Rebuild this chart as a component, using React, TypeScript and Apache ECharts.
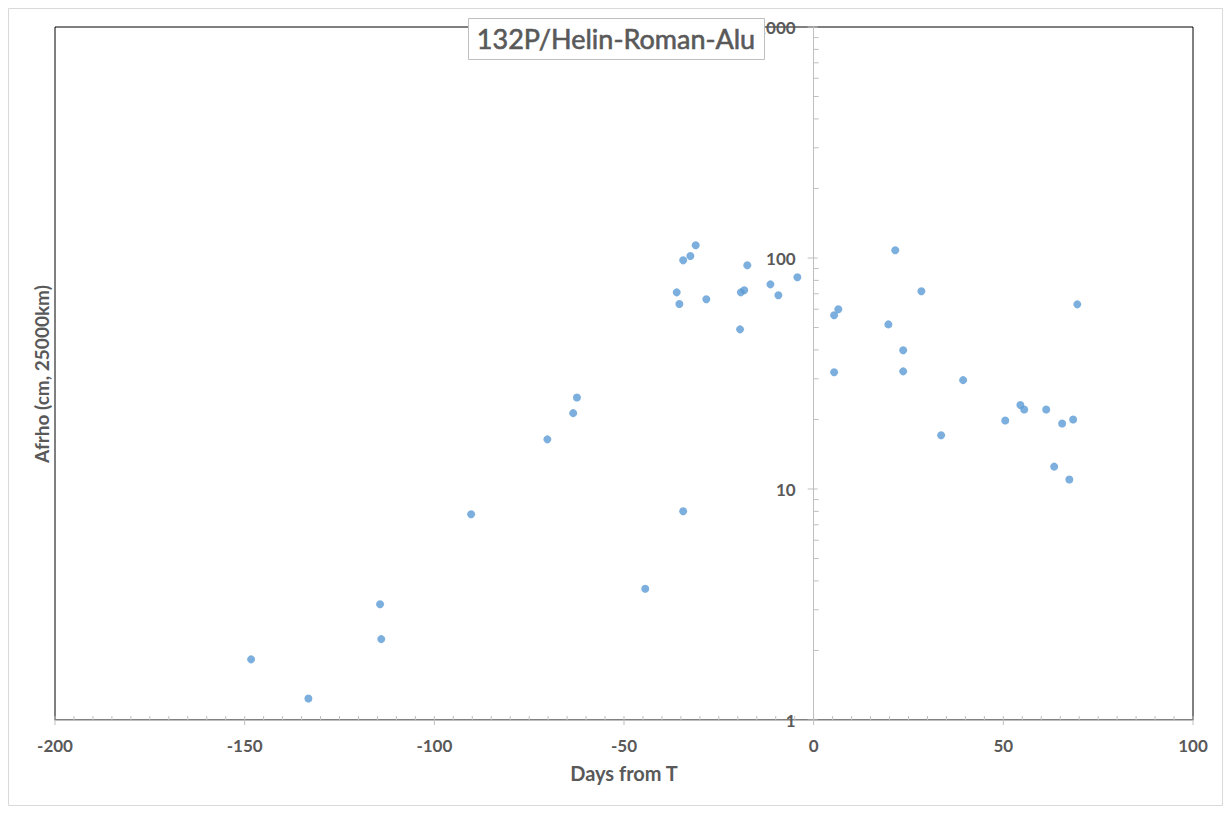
import React, { useEffect, useRef } from "react";
import * as echarts from "echarts";

const chartTitle = "132P/Helin-Roman-Alu";
const xAxisName = "Days from T";
const yAxisName = "Afrho (cm, 25000km)";

const days = [
  -148.3, -133.2, -114.3, -114.0, -90.3, -70.2, -63.4, -62.4, -44.4, -34.4,
  -36.1, -35.4, -34.4, -32.5, -31.1, -28.3, -19.4, -19.2, -18.3, -17.5,
  -11.4, -9.3, -4.3,
  5.4, 6.5, 5.4, 19.7, 21.5, 23.6, 23.6, 28.4, 33.6, 39.4,
  50.5, 54.5, 55.5, 61.3, 63.4, 65.5, 67.4, 68.4, 69.5,
];
const afrho = [
  1.83, 1.24, 3.17, 2.24, 7.77, 16.4, 21.3, 24.9, 3.7, 8.01,
  71.0, 63.2, 97.7, 102, 113.5, 66.3, 49.1, 71.0, 72.5, 93.0,
  76.9, 69.0, 82.5,
  56.5, 60.0, 32.0, 51.6, 108, 39.9, 32.3, 71.8, 17.1, 29.6,
  19.8, 23.1, 22.1, 22.1, 12.5, 19.2, 11.0, 20.0, 63.0,
];

const xMin = -200;
const xMax = 100;
const xStep = 50;
const yMajorTicks = [1, 10, 100, 1000];
const yMinorTicks = [
  2, 3, 4, 5, 6, 7, 8, 9,
  20, 30, 40, 50, 60, 70, 80, 90,
  200, 300, 400, 500, 600, 700, 800, 900,
];
const xMajorTicks = [-200, -150, -100, -50, 0, 50, 100];
const xMinorTicks: number[] = [];
for (let v = xMin; v <= xMax; v += 5) if (v % xStep !== 0) xMinorTicks.push(v);

const GRID_LEFT = 47;
const GRID_WIDTH = 1138;

export default function App() {
  const ref = useRef<HTMLDivElement>(null);
  useEffect(() => {
    if (!ref.current) return;
    const chart = echarts.init(ref.current, null, { renderer: "svg" });
    const font = "Lato, 'Open Sans', sans-serif";
    const gray = "#bfbfbf";
    const zeroOffset = (GRID_WIDTH * (0 - xMin)) / (xMax - xMin);
    const tickSeries = (
      name: string,
      data: number[][],
      make: (p: number[]) => any
    ) => ({
      type: "custom",
      name,
      silent: true,
      data,
      z: 1,
      renderItem: (_params: any, api: any) => {
        const p = api.coord([api.value(0), api.value(1)]);
        return make(p);
      },
    });
    const lineStyle = { stroke: gray, lineWidth: 1 };
    chart.setOption({
      animation: false,
      backgroundColor: "#fff",
      grid: {
        left: GRID_LEFT,
        top: 19,
        width: GRID_WIDTH,
        height: 693,
        show: true,
        borderColor: "#000",
        borderWidth: 1,
        containLabel: false,
        outerBoundsMode: "none",
      },
      xAxis: {
        type: "value",
        min: xMin,
        max: xMax,
        interval: xStep,
        axisLine: { onZero: false, lineStyle: { color: gray, width: 1 } },
        axisTick: { show: false },
        splitLine: { show: false },
        axisLabel: {
          color: "#595959",
          fontFamily: font,
          fontWeight: "bold",
          fontSize: 17,
          margin: 17,
        },
      },
      yAxis: {
        type: "log",
        logBase: 10,
        min: 1,
        max: 1000,
        position: "left",
        offset: -zeroOffset,
        axisLine: { show: true, onZero: false, lineStyle: { color: gray, width: 1 } },
        axisTick: { show: false },
        splitLine: { show: false },
        minorTick: { show: false },
        axisLabel: {
          color: "#595959",
          fontFamily: font,
          fontWeight: "bold",
          fontSize: 17,
          margin: 18,
          formatter: (v: number) => String(v),
        },
      },
      series: [
        tickSeries(
          "yMinor",
          yMinorTicks.map((v) => [0, v]),
          (p) => ({
            type: "line",
            shape: { x1: p[0], y1: p[1], x2: p[0] + 5, y2: p[1] },
            style: lineStyle,
          })
        ),
        tickSeries(
          "yMajor",
          yMajorTicks.map((v) => [0, v]),
          (p) => ({
            type: "line",
            shape: { x1: p[0] - 6, y1: p[1], x2: p[0] + 4, y2: p[1] },
            style: lineStyle,
          })
        ),
        tickSeries(
          "xMinor",
          xMinorTicks.map((v) => [v, 1]),
          (p) => ({
            type: "line",
            shape: { x1: p[0], y1: p[1], x2: p[0], y2: p[1] - 4 },
            style: lineStyle,
          })
        ),
        tickSeries(
          "xMajor",
          xMajorTicks.map((v) => [v, 1]),
          (p) => ({
            type: "line",
            shape: { x1: p[0], y1: p[1] - 4, x2: p[0], y2: p[1] + 5 },
            style: lineStyle,
          })
        ),
        {
          type: "scatter",
          name: "Afrho",
          symbol: "circle",
          symbolSize: 8,
          itemStyle: { color: "#5b9bd5" },
          data: days.map((d, i) => [d, afrho[i]]),
          z: 3,
        },
      ],
      graphic: [
        {
          type: "rect",
          shape: { x: 0.5, y: 0.5, width: 1214, height: 797 },
          style: { fill: "none", stroke: "#d9d9d9", lineWidth: 1 },
          silent: true,
          z: 0,
        },
        {
          type: "rect",
          shape: { x: 460.5, y: 10.5, width: 296, height: 41 },
          style: { fill: "#fff", stroke: gray, lineWidth: 1 },
          z: 10,
        },
        {
          type: "text",
          x: 608,
          y: 30,
          z: 11,
          style: {
            text: chartTitle,
            fill: "#595959",
            stroke: "#595959",
            lineWidth: 0.6,
            font: `27px ${font}`,
            align: "center",
            verticalAlign: "middle",
          },
        },
        {
          type: "text",
          x: 616,
          y: 765,
          style: {
            text: xAxisName,
            fill: "#595959",
            font: `bold 20px ${font}`,
            align: "center",
            verticalAlign: "middle",
          },
        },
        {
          type: "text",
          x: 33,
          y: 366,
          rotation: Math.PI / 2,
          style: {
            text: yAxisName,
            fill: "#595959",
            font: `bold 19px ${font}`,
            align: "center",
            verticalAlign: "middle",
          },
        },
      ],
    });
    return () => chart.dispose();
  }, []);
  return <div ref={ref} style={{ width: 1215, height: 798 }} />;
}
